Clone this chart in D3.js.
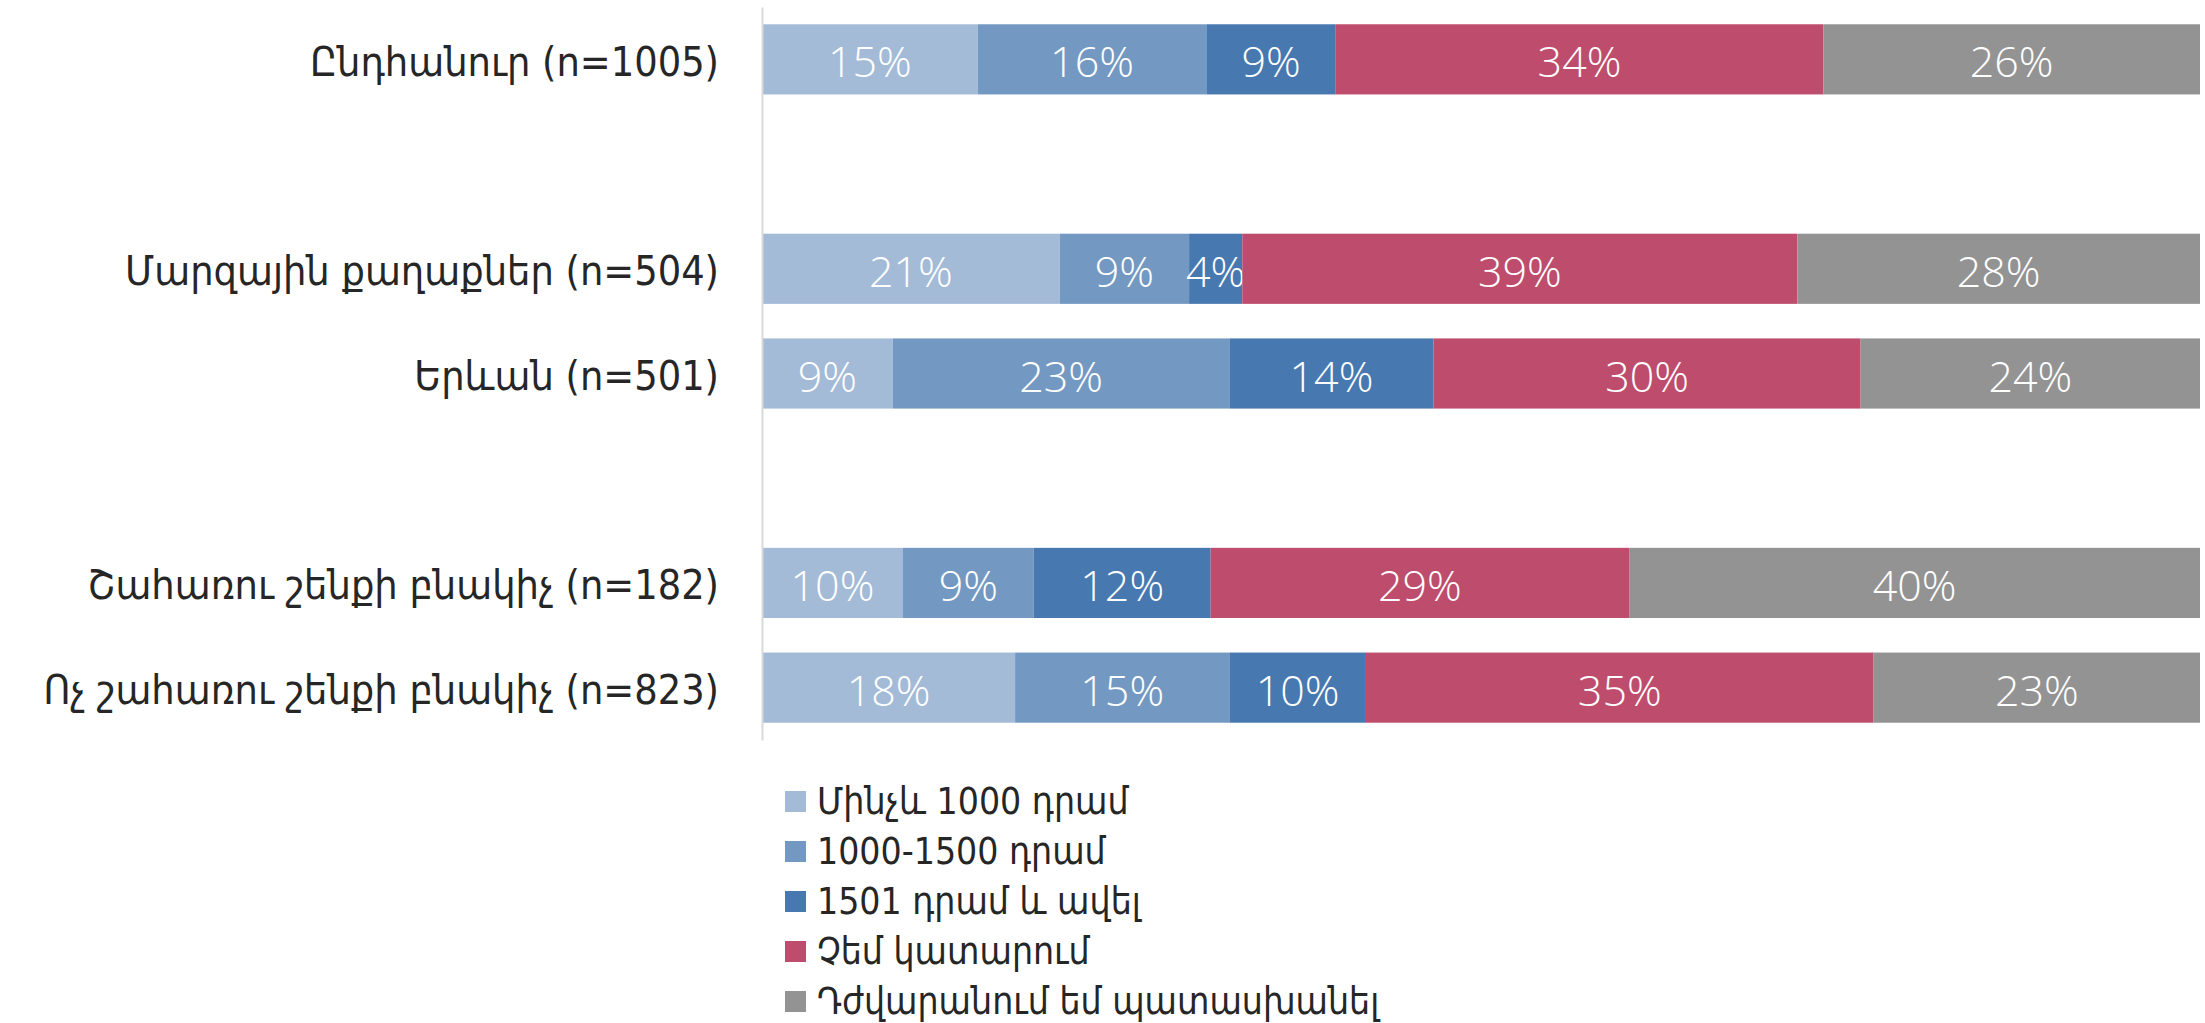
<!DOCTYPE html>
<html>
<head>
<meta charset="utf-8">
<script src="https://d3js.org/d3.v7.min.js"></script>
<style>
  body { margin: 0; background: #fff; }
  .axis path { stroke: #d9d9d9; stroke-width: 2; }
  .axis text { font-family: "DejaVu Sans Condensed", "DejaVu Sans", sans-serif; fill: #262626; }
</style>
</head>
<body>
<div id="chart"></div>
<script>
// rows of the chart (top to bottom), blanks are empty slots
var rowLabels = ["Ընդհանուր (n=1005)", "Մարզային քաղաքներ (n=504)", "Երևան (n=501)",
  "Շահառու շենքի բնակիչ (n=182)", "Ոչ շահառու շենքի բնակիչ (n=823)"];
var slots = [rowLabels[0], "gap1", rowLabels[1], rowLabels[2], "gap2", rowLabels[3], rowLabels[4]];

var seriesNames = ["Մինչև 1000 դրամ", "1000-1500 դրամ", "1501 դրամ և ավել",
  "Չեմ կատարում", "Դժվարանում եմ պատասխանել"];

// shares in %, one value per row
var upTo1000 = [15.0, 20.7, 9.1, 9.8, 17.6];
var from1000to1500 = [15.9, 9.0, 23.4, 9.1, 14.9];
var over1500 = [9.0, 3.7, 14.2, 12.3, 9.5];
var dontPay = [33.9, 38.6, 29.7, 29.1, 35.3];
var hardToSay = [26.2, 28.0, 23.6, 39.7, 22.7];

var seriesValues = [upTo1000, from1000to1500, over1500, dontPay, hardToSay];

var width = 2205, height = 1023;

var table = rowLabels.map(function (r, i) {
  var o = { row: r };
  seriesNames.forEach(function (s, j) { o[s] = seriesValues[j][i]; });
  return o;
});

var stacked = d3.stack().keys(seriesNames)(table);

var x = d3.scaleLinear()
  .domain([0, 100])
  .range([762, 2200]);

var y = d3.scaleBand()
  .domain(slots)
  .range([7, 740])
  .paddingInner(0.33)
  .paddingOuter(0.165);

var color = d3.scaleOrdinal()
  .domain(seriesNames)
  .range(["#a3bbd7", "#7399c2", "#4778b0", "#be4c6c", "#939393"]);

var svg = d3.select("#chart").append("svg")
  .attr("width", width)
  .attr("height", height);

// bars
var layer = svg.selectAll(".layer")
  .data(stacked)
  .enter().append("g")
  .attr("class", "layer")
  .attr("fill", function (d) { return color(d.key); });

layer.selectAll("rect")
  .data(function (d) { return d; })
  .enter().append("rect")
  .attr("x", function (d) { return x(d[0]); })
  .attr("y", function (d) { return y(d.data.row); })
  .attr("width", function (d) { return x(d[1]) - x(d[0]); })
  .attr("height", y.bandwidth());

// value labels
layer.selectAll("text")
  .data(function (d) { return d; })
  .enter().append("text")
  .attr("x", function (d) { return (x(d[0]) + x(d[1])) / 2; })
  .attr("y", function (d) { return y(d.data.row) + y.bandwidth() / 2; })
  .attr("dy", "0.42em")
  .attr("text-anchor", "middle")
  .style("font-family", "'Open Sans', sans-serif")
  .style("font-weight", 300)
  .style("font-size", "43px")
  .style("fill", "#fff")
  .text(function (d) { return Math.round(d[1] - d[0]) + "%"; });

// y axis with row labels
var yAxis = d3.axisLeft(y)
  .tickSize(0)
  .tickPadding(43)
  .tickFormat(function (d) { return d.indexOf("gap") === 0 ? "" : d; });

svg.append("g")
  .attr("class", "axis")
  .attr("transform", "translate(" + x(0) + ",0)")
  .call(yAxis)
  .call(function (g) {
    g.selectAll("text")
      .attr("dy", "0.4em")
      .style("font-size", "41px");
  });

// legend
var legend = svg.selectAll(".legend")
  .data(seriesNames)
  .enter().append("g")
  .attr("class", "legend")
  .attr("transform", function (d, i) { return "translate(785," + (801 + i * 50) + ")"; });

legend.append("rect")
  .attr("y", -10)
  .attr("width", 21)
  .attr("height", 21)
  .style("fill", color);

legend.append("text")
  .attr("x", 32)
  .attr("dy", "0.35em")
  .style("font-family", "'DejaVu Sans Condensed', 'DejaVu Sans', sans-serif")
  .style("font-size", "37px")
  .style("fill", "#262626")
  .text(function (d) { return d; });
</script>
</body>
</html>
